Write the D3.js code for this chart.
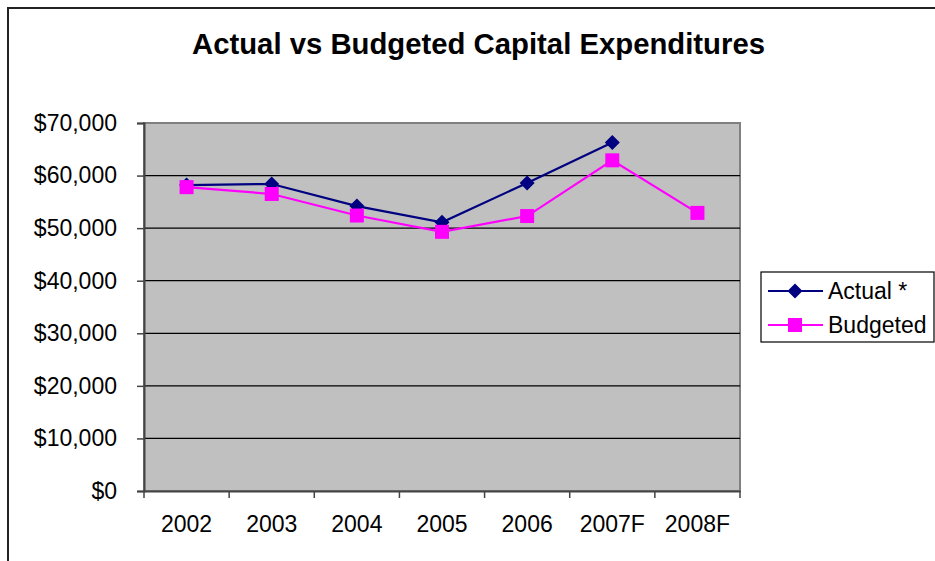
<!DOCTYPE html>
<html><head><meta charset="utf-8">
<script src="https://cdn.jsdelivr.net/npm/d3@7/dist/d3.min.js"></script>
<style>body{margin:0;background:#fff}svg{display:block}text{font-family:"Liberation Sans",Arial,sans-serif}</style>
</head><body><svg id="c" width="935" height="561"></svg>
<script>
const categories = ["2002","2003","2004","2005","2006","2007F","2008F"];
const actual = [58200, 58400, 54200, 51100, 58600, 66300, null];
const budgeted = [57800, 56500, 52400, 49300, 52300, 62900, 52900];
const yTicks = [0,10000,20000,30000,40000,50000,60000,70000];
const seriesNames = ["Actual *","Budgeted"];
const seriesColors = ["#000080","#FF00FF"];

const svg = d3.select("#c");
svg.append("rect").attr("x",8).attr("y",8).attr("width",1000).attr("height",1000)
  .attr("fill","#fff").attr("stroke","#222").attr("stroke-width",2);

const L=144,R=740,T=123,B=491;
const x = d3.scaleBand().domain(categories).range([L,R]);
const y = d3.scaleLinear().domain([0,70000]).range([B,T]);

svg.append("rect").attr("x",L).attr("y",T).attr("width",R-L).attr("height",B-T)
  .attr("fill","#C0C0C0").attr("stroke","#808080").attr("stroke-width",2);

svg.append("g").selectAll("line").data(yTicks.filter(d=>d>0&&d<70000)).join("line")
  .attr("x1",L).attr("x2",R).attr("y1",d=>y(d)).attr("y2",d=>y(d))
  .attr("stroke","#000").attr("stroke-width",1.2);

const fmt = d=>"$"+d3.format(",")(d);
const ya = svg.append("g").attr("transform",`translate(${L},0)`)
  .call(d3.axisLeft(y).tickValues(yTicks).tickFormat(fmt).tickSize(7).tickPadding(20));
ya.select(".domain").attr("stroke","#444").attr("stroke-width",2);
ya.selectAll(".tick line").attr("stroke","#444").attr("stroke-width",1.5);
ya.selectAll("text").attr("font-size","23px").attr("fill","#000").attr("font-family","Liberation Sans, Arial, sans-serif");

const xa = svg.append("g").attr("transform",`translate(0,${B})`)
  .call(d3.axisBottom(x).tickSize(0).tickPadding(25));
xa.select(".domain").attr("stroke","#444").attr("stroke-width",2);
xa.selectAll("text").attr("font-size","23px").attr("fill","#000").attr("font-family","Liberation Sans, Arial, sans-serif");
const bounds = categories.map(c=>x(c)).concat([R]);
svg.append("g").selectAll("line").data(bounds).join("line")
  .attr("x1",d=>d).attr("x2",d=>d).attr("y1",B).attr("y2",B+7)
  .attr("stroke","#444").attr("stroke-width",1.5);

const cx = c=>x(c)+x.bandwidth()/2;
const line = d3.line().defined(d=>d.v!=null).x(d=>cx(d.c)).y(d=>y(d.v));
const diamond = (g,px,py,s,col)=>g.append("path")
  .attr("d",`M${px},${py-s}L${px+s},${py}L${px},${py+s}L${px-s},${py}Z`).attr("fill",col);
const square = (g,px,py,s,col)=>g.append("rect").attr("x",px-s).attr("y",py-s)
  .attr("width",2*s).attr("height",2*s).attr("fill",col);

[actual,budgeted].forEach((vals,i)=>{
  const data = categories.map((c,j)=>({c,v:vals[j]}));
  const g = svg.append("g");
  g.append("path").datum(data).attr("d",line).attr("fill","none")
    .attr("stroke",seriesColors[i]).attr("stroke-width",2.2);
  data.filter(d=>d.v!=null).forEach(d=>{
    if(i===0) diamond(g,cx(d.c),y(d.v),7.5,seriesColors[i]);
    else square(g,cx(d.c),y(d.v),7,seriesColors[i]);
  });
});

svg.append("text").attr("x",478.5).attr("y",54).attr("text-anchor","middle")
  .attr("font-size","29px").attr("font-weight","bold")
  .attr("textLength",573).attr("lengthAdjust","spacingAndGlyphs")
  .text("Actual vs Budgeted Capital Expenditures");

const lg = svg.append("g");
lg.append("rect").attr("x",761).attr("y",272).attr("width",173).attr("height",70)
  .attr("fill","#fff").attr("stroke","#000").attr("stroke-width",1.2);
seriesNames.forEach((n,i)=>{
  const ly = 291+i*34;
  lg.append("line").attr("x1",768).attr("x2",823).attr("y1",ly).attr("y2",ly)
    .attr("stroke",seriesColors[i]).attr("stroke-width",2.2);
  if(i===0) diamond(lg,795,ly,7.5,seriesColors[i]); else square(lg,795,ly,7,seriesColors[i]);
  lg.append("text").attr("x",828).attr("y",ly).attr("dy","0.36em").attr("font-size","23px").text(n);
});
</script></body></html>
